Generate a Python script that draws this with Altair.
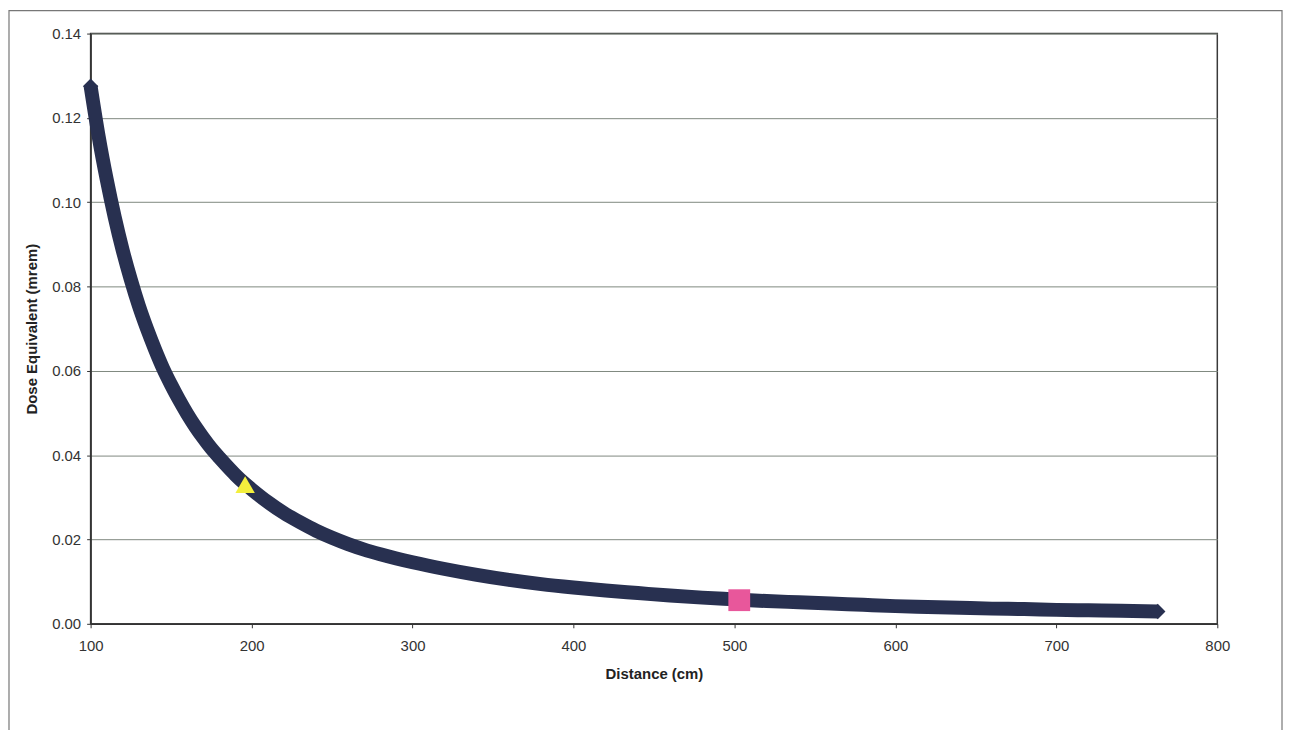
import altair as alt
import pandas as pd

# Dose equivalent curve
distance = [100, 105, 110, 115, 120, 125, 130, 135, 140, 145, 150, 155, 160,
            165, 170, 175, 180, 185, 190, 195, 200, 210, 220, 230, 240, 250,
            260, 270, 280, 290, 300, 320, 340, 360, 380, 400, 420, 440, 460,
            480, 500, 520, 540, 560, 580, 600, 620, 640, 660, 680, 700, 720,
            740, 763]
dose = [0.1275, 0.1156, 0.1054, 0.0964, 0.0885, 0.0816, 0.0754, 0.0700,
        0.0651, 0.0606, 0.0567, 0.0531, 0.0498, 0.0468, 0.0441, 0.0416,
        0.0394, 0.0373, 0.0353, 0.0335, 0.0319, 0.0289, 0.0263, 0.0241,
        0.0221, 0.0204, 0.0189, 0.0176, 0.0165, 0.0155, 0.0146, 0.0130,
        0.0116, 0.0104, 0.0094, 0.0086, 0.0079, 0.0073, 0.0067, 0.0062,
        0.0058, 0.0054, 0.0051, 0.0048, 0.0045, 0.0042, 0.0040, 0.0038,
        0.0036, 0.0035, 0.0033, 0.0032, 0.0031, 0.0029]

# Highlighted points
tri_x = [196]
tri_y = [0.0330]
sq_x = [503]
sq_y = [0.0056]

x_ticks = [100, 200, 300, 400, 500, 600, 700, 800]
y_ticks = [0.00, 0.02, 0.04, 0.06, 0.08, 0.10, 0.12, 0.14]

curve = pd.DataFrame({"Distance": distance, "Dose": dose})
ends = curve.iloc[[0, len(curve) - 1]]
tri = pd.DataFrame({"Distance": tri_x, "Dose": tri_y})
sq = pd.DataFrame({"Distance": sq_x, "Dose": sq_y})

FONT = "Liberation Sans"
NAVY = "#283050"

x_enc = alt.X("Distance:Q",
              scale=alt.Scale(domain=[100, 800], nice=False, zero=False),
              axis=alt.Axis(values=x_ticks, title="Distance (cm)", grid=False,
                            tickSize=4, labelPadding=11, titlePadding=13,
                            labelFlush=False, format="d"))
y_enc = alt.Y("Dose:Q",
              scale=alt.Scale(domain=[0, 0.14], nice=False),
              axis=alt.Axis(values=y_ticks, title="Dose Equivalent (mrem)",
                            format=".2f", grid=True, tickSize=4,
                            labelFlush=False, labelPadding=6, titlePadding=12))

frame = alt.Chart(pd.DataFrame({"a": [0]})).mark_rect(
    fill=None, stroke="#777777", strokeWidth=1.2
).encode(x=alt.value(-82), x2=alt.value(1197), y=alt.value(-23), y2=alt.value(702))

line = alt.Chart(curve).mark_line(
    color=NAVY, strokeWidth=14, interpolate="monotone", strokeJoin="round"
).encode(x=x_enc, y=y_enc)

end_pts = alt.Chart(ends).mark_point(
    shape="diamond", filled=True, color=NAVY, opacity=1, size=240
).encode(x="Distance:Q", y="Dose:Q")

tri_pt = alt.Chart(tri).mark_point(
    shape="triangle-up", filled=True, color="#f3ef3d", opacity=1, size=380
).encode(x="Distance:Q", y="Dose:Q")

sq_pt = alt.Chart(sq).mark_point(
    shape="square", filled=True, color="#e8579b", opacity=1, size=480
).encode(x="Distance:Q", y="Dose:Q")

chart = alt.layer(frame, line, end_pts, tri_pt, sq_pt).properties(
    width=1132, height=593,
    autosize=alt.AutoSizeParams(type="none"),
    padding={"left": 83, "top": 24, "right": 66, "bottom": 105},
    background="white",
).configure_view(
    stroke="#3a3a3a", strokeWidth=1.5
).configure_axis(
    labelFont=FONT, labelFontSize=15, labelColor="#333333",
    titleFont=FONT, titleFontSize=15, titleFontWeight="bold", titleColor="#222222",
    domainColor="#333333", domainWidth=1.5, tickColor="#333333",
    gridColor="#7f887f", gridWidth=1
)

chart.save("out.html", embed_options={"renderer": "svg", "actions": False})
